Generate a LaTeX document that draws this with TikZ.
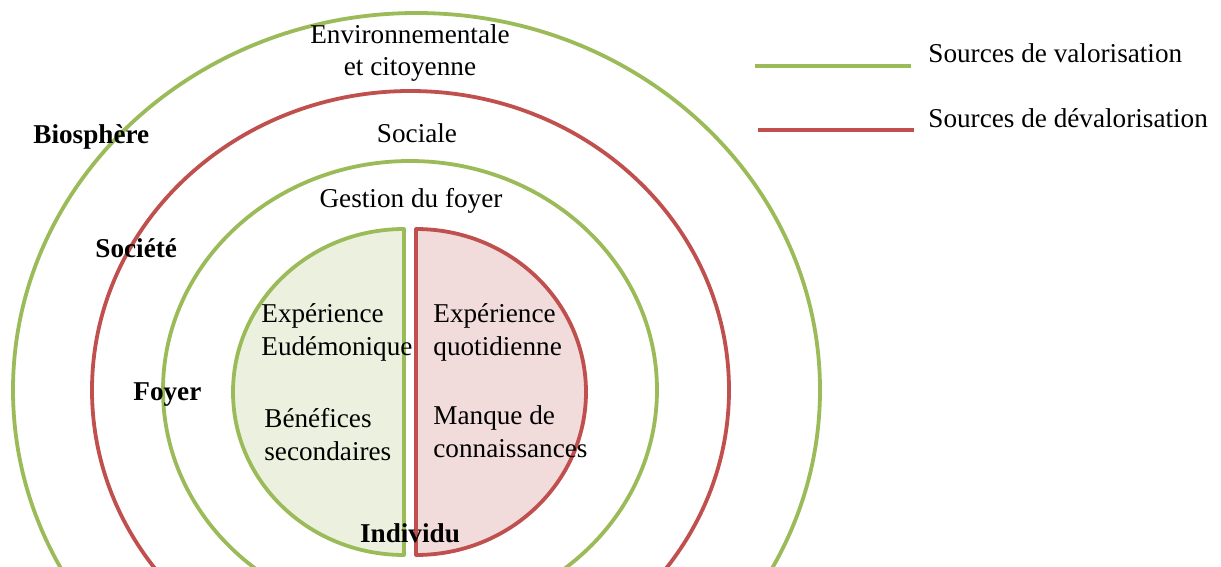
\documentclass[tikz,border=0pt]{standalone}
\usepackage{fontspec}
\setmainfont{Liberation Serif}
\usepackage{xcolor}
\usetikzlibrary{positioning}
\definecolor{valgreen}{HTML}{9BBB59}
\definecolor{devred}{HTML}{C0504D}
\definecolor{valfill}{HTML}{EBF1DE}
\definecolor{devfill}{HTML}{F2DCDB}

\begin{document}
\begin{tikzpicture}[x=0.5pt,y=-0.5pt,
    every node/.style={font=\fontsize{13.6}{16.5}\selectfont,inner sep=0pt},
    ring/.style={line width=1.9pt,line join=round},
    lbl/.style={font=\fontsize{13.6}{16.5}\selectfont\bfseries}]
  \clip (0,0) rectangle (1221,567);
  % rings
  \draw[ring,valgreen] (416.5,390) ellipse [x radius=403.5,y radius=377];
  \draw[ring,devred] (410.5,390) ellipse [x radius=318.5,y radius=299];
  \draw[ring,valgreen] (410,390) ellipse [x radius=247,y radius=229];
  \filldraw[ring,valgreen,fill=valfill] (404,229) arc[start angle=-90,end angle=-270,x radius=171,y radius=163] -- cycle;
  \filldraw[ring,devred,fill=devfill] (416,229) arc[start angle=-90,end angle=90,x radius=170,y radius=163] -- cycle;
  % labels
  \node[anchor=base,align=center] (env) at (410,76) {Environnementale\\et citoyenne};
  \node[anchor=base] (soc) at (417,142) {Sociale};
  \node[anchor=base] (ges) at (411,207) {Gestion du foyer};
  \node[lbl,anchor=base west] (bio) at (33,143) {Biosphère};
  \node[lbl,anchor=base west] (sct) at (95,257) {Société};
  \node[lbl,anchor=base west] (foy) at (133,400) {Foyer};
  \node[lbl,anchor=base] (ind) at (410,542) {Individu};
  \node[anchor=base west,align=left] (eud) at (261,355) {Expérience\\Eudémonique};
  \node[anchor=base west,align=left] (ben) at (264,460) {Bénéfices\\secondaires};
  \node[anchor=base west,align=left] (quo) at (433,355) {Expérience\\quotidienne};
  \node[anchor=base west,align=left] (man) at (433,457) {Manque de\\connaissances};
  % legend
  \coordinate (vl) at (755,66); \coordinate (vr) at (911,66);
  \coordinate (dl) at (758,130); \coordinate (dr) at (914,130);
  \node[anchor=base west] (val) at (928,63) {Sources de valorisation};
  \node[anchor=base west] (dev) at (928,127) {Sources de dévalorisation};
  \draw[ring,valgreen] (vl) -- (vr);
  \draw[ring,devred] (dl) -- (dr);
\end{tikzpicture}
\end{document}
